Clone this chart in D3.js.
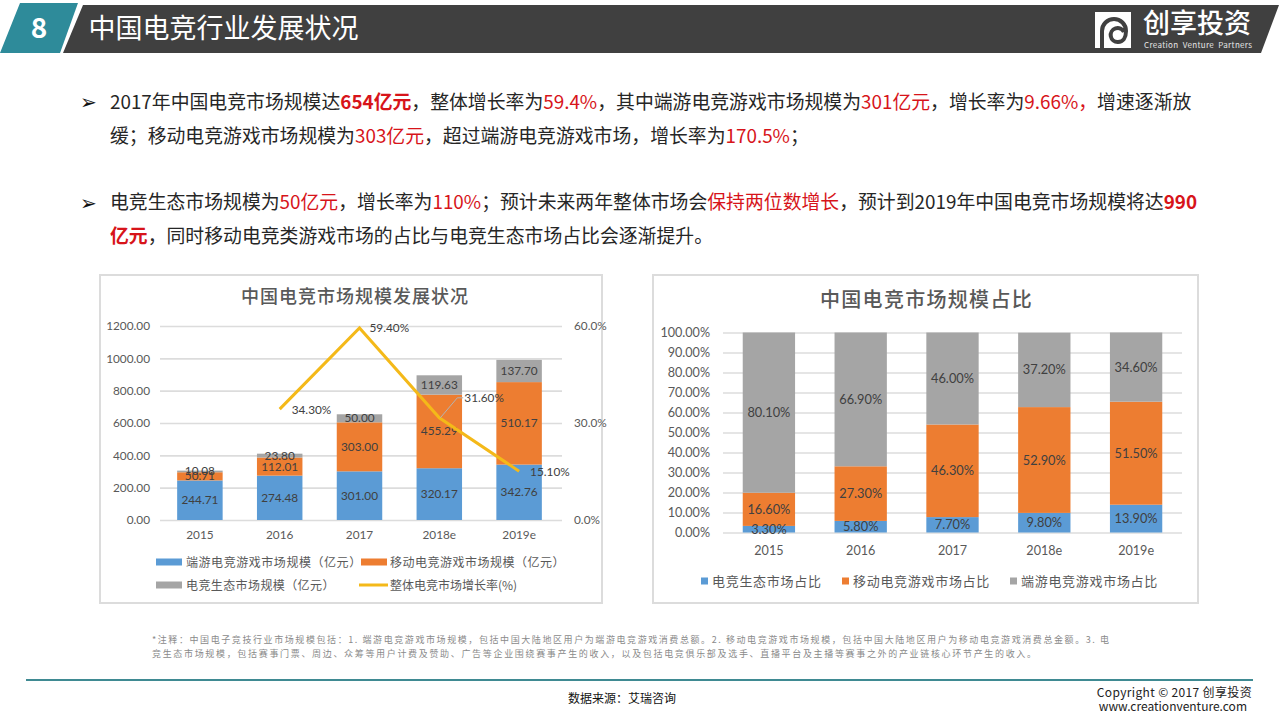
<!DOCTYPE html>
<html><head><meta charset="utf-8">
<script src="https://cdn.jsdelivr.net/npm/d3@7/dist/d3.min.js"></script>
<style>
html,body{margin:0;padding:0;background:#fff;overflow:hidden}
svg{display:block}
text{font-family:"Noto Sans CJK SC","Noto Sans",sans-serif}
.num{font-family:Lato,"Noto Sans CJK SC",sans-serif}
</style></head><body><svg id="c" width="1280" height="720"></svg>
<script>
const years = ["2015","2016","2017","2018e","2019e"];
const pcGame = [244.71,274.48,301.00,320.17,342.76];
const mobileGame = [50.71,112.01,303.00,455.29,510.17];
const ecosystem = [10.08,23.80,50.00,119.63,137.70];
const growth = [null,34.30,59.40,31.60,15.10];
const shareEco = [3.30,5.80,7.70,9.80,13.90];
const shareMobile = [16.60,27.30,46.30,52.90,51.50];
const sharePc = [80.10,66.90,46.00,37.20,34.60];
const leftTicks = [0,200,400,600,800,1000,1200];
const rateTicks = [0,30,60];
const shareTicks = [0,10,20,30,40,50,60,70,80,90,100];
const leftSeriesNames = ["端游电竞游戏市场规模（亿元）","移动电竞游戏市场规模（亿元）","电竞生态市场规模（亿元）","整体电竞市场增长率(%)"];
const rightSeriesNames = ["电竞生态市场占比","移动电竞游戏市场占比","端游电竞游戏市场占比"];
const headline = "中国电竞行业发展状况";
const leftTitle = "中国电竞市场规模发展状况";
const rightTitle = "中国电竞市场规模占比";
const para1a = [["2017年中国电竞市场规模达",0],["654亿元",2],["，整体增长率为",0],["59.4%",1],["，其中端游电竞游戏市场规模为",0],["301亿元",1],["，增长率为",0],["9.66%，",1],["增速逐渐放",0]];
const para1b = [["缓；移动电竞游戏市场规模为",0],["303亿元",1],["，超过端游电竞游戏市场，增长率为",0],["170.5%",1],["；",0]];
const para2a = [["电竞生态市场规模为",0],["50亿元",1],["，增长率为",0],["110%",1],["；预计未来两年整体市场会",0],["保持两位数增长",1],["，预计到2019年中国电竞市场规模将达",0],["990",2]];
const para2b = [["亿元",2],["，同时移动电竞类游戏市场的占比与电竞生态市场占比会逐渐提升。",0]];
const note1 = "*注释：中国电子竞技行业市场规模包括：1. 端游电竞游戏市场规模，包括中国大陆地区用户为端游电竞游戏消费总额。2. 移动电竞游戏市场规模，包括中国大陆地区用户为移动电竞游戏消费总金额。3. 电";
const note2 = "竞生态市场规模，包括赛事门票、周边、众筹等用户计费及赞助、广告等企业围绕赛事产生的收入，以及包括电竞俱乐部及选手、直播平台及主播等赛事之外的产业链核心环节产生的收入。";

const BLUE="#5b9bd5",ORANGE="#ed7d31",GRAY="#a5a5a5",YEL="#f4b919",INK="#404040",AX="#595959",GRID="#dcdcdc",TEAL="#2e8b9a",DARK="#404040";
const svg=d3.select("#c");

// header
const poly=(pts,f)=>svg.append("polygon").attr("points",pts.join(" ")).attr("fill",f);
poly(["78,3","60,53","0,53","20,3"],TEAL);
poly(["83,5","1279,5","1261,53","63,53"],DARK);
svg.append("text").attr("x",39).attr("y",38).attr("text-anchor","middle").attr("fill","#fff").attr("font-size",28).attr("font-weight",700).text("8");
svg.append("text").attr("x",88.5).attr("y",38).attr("fill","#fff").attr("font-size",27).text(headline);
// logo
svg.append("rect").attr("x",1095).attr("y",12).attr("width",36).attr("height",36).attr("fill","#fff");
svg.append("path").attr("d","M1102 48V31a12 12 0 0 1 24 0c0 7-3 11-8 11a7 7 0 1 1 6-10").attr("fill","none").attr("stroke",DARK).attr("stroke-width",4);
svg.append("text").attr("x",1143).attr("y",33).attr("fill","#fff").attr("font-size",27).attr("font-weight",500).text("创享投资");
svg.append("text").attr("x",1144).attr("y",48).attr("fill","#e6e6e6").attr("font-size",8).attr("font-family","Lato").attr("style","white-space:pre").attr("textLength",108).text("Creation  Venture  Partners");

// body text
const bodyLine=(segs,x,y)=>{
  const t=svg.append("text").attr("x",x).attr("y",y).attr("font-size",18.85).attr("fill","#262626");
  t.selectAll("tspan").data(segs).join("tspan").text(d=>d[0])
   .attr("fill",d=>d[1]?"#d7141a":"#262626").attr("font-weight",d=>d[1]==2?700:400);
};
bodyLine(para1a,110,108.5);bodyLine(para1b,110,142.5);bodyLine(para2a,110,209);bodyLine(para2b,110,242.5);
[102,203].forEach(y=>svg.append("text").attr("x",80).attr("y",y+7).attr("font-size",20).attr("font-family","DejaVu Sans").attr("fill","#111").text("➢"));

// boxes
[[100,275,502,328],[653,275,545,328]].forEach(b=>svg.append("rect").attr("x",b[0]).attr("y",b[1]).attr("width",b[2]).attr("height",b[3]).attr("fill","#fff").attr("stroke","#dcdcdc").attr("stroke-width",2));

const styleAxis=(g,fs)=>{g.select(".domain").remove();g.selectAll("line").attr("stroke",GRID).attr("stroke-width",1.6);
  g.selectAll("text").attr("class","num").attr("fill",AX).attr("font-size",fs);};

// LEFT CHART
const x1=d3.scaleBand().domain(years).range([160,559]).paddingInner(0.43).paddingOuter(0.215);
const y1=d3.scaleLinear().domain([0,1200]).range([520,326]);
const yR=d3.scaleLinear().domain([0,60]).range([520,326]);
svg.append("text").attr("x",355).attr("y",303).attr("text-anchor","middle").attr("font-size",18).attr("letter-spacing",1).attr("fill",AX).attr("font-weight",500).text(leftTitle);
svg.append("g").attr("transform","translate(160,0)").call(d3.axisLeft(y1).tickValues(leftTicks).tickFormat(d3.format(".2f")).tickSize(-402).tickPadding(10)).call(styleAxis,11.8);
svg.append("g").attr("transform","translate(562,0)").call(d3.axisRight(yR).tickValues(rateTicks).tickFormat(d=>d.toFixed(1)+"%").tickSize(0).tickPadding(12)).call(styleAxis,11.8);
svg.append("g").attr("transform","translate(0,520)").call(d3.axisBottom(x1).tickSize(0).tickPadding(11)).call(g=>{styleAxis(g,11.8)});
const stack1=[[pcGame,BLUE],[mobileGame,ORANGE],[ecosystem,GRAY]];
const lbl=[];
years.forEach((yr,i)=>{let base=0;stack1.forEach(([arr,col])=>{
  const v=arr[i];
  svg.append("rect").attr("x",x1(yr)).attr("width",x1.bandwidth()).attr("y",y1(base+v)).attr("height",y1(base)-y1(base+v)).attr("fill",col);
  lbl.push([x1(yr)+x1.bandwidth()/2,y1(base+v/2),v.toFixed(2)]);base+=v;});});
lbl.forEach(l=>svg.append("text").attr("class","num").attr("x",l[0]).attr("y",l[1]+4).attr("text-anchor","middle").attr("font-size",11.8).attr("fill",INK).text(l[2]));
const cx1=yr=>x1(yr)+x1.bandwidth()/2;
const ptsL=years.map((yr,i)=>({yr,v:growth[i]})).filter(d=>d.v!=null);
svg.append("path").datum(ptsL).attr("fill","none").attr("stroke",YEL).attr("stroke-width",3)
  .attr("d",d3.line().x(d=>cx1(d.yr)).y(d=>yR(d.v)));
const p18=ptsL[2];
svg.append("path").attr("fill","none").attr("stroke","#b4b4b4").attr("stroke-width",1)
  .attr("d",`M${cx1(p18.yr)+1} ${yR(p18.v)}l17 -20h6`);
const rateOff=[[12,5],[10,4],[25,-16],[11,5]];
ptsL.forEach((d,i)=>svg.append("text").attr("class","num").attr("x",cx1(d.yr)+rateOff[i][0]).attr("y",yR(d.v)+rateOff[i][1]).attr("font-size",11.8).attr("fill",INK).text(d.v.toFixed(2)+"%"));
// left legend
const legL=[[156,562,BLUE,186,.55],[361,562,ORANGE,390,.5],[156,585,GRAY,186,.4],[359,585,YEL,390,0]];
leftSeriesNames.forEach((n,i)=>{const l=legL[i];
  if(i<3)svg.append("rect").attr("x",l[0]).attr("y",l[1]-3.5).attr("width",26).attr("height",7).attr("fill",l[2]);
  else svg.append("line").attr("x1",l[0]).attr("x2",l[0]+29).attr("y1",l[1]).attr("y2",l[1]).attr("stroke",l[2]).attr("stroke-width",3);
  svg.append("text").attr("x",l[3]).attr("y",l[1]+4.5).attr("font-size",12).attr("fill",AX).attr("letter-spacing",l[4]).text(n);
});

// RIGHT CHART
const x2=d3.scaleBand().domain(years).range([723,1182]).paddingInner(0.43).paddingOuter(0.215);
const y2=d3.scaleLinear().domain([0,100]).range([532.5,332.5]);
svg.append("text").attr("x",926.5).attr("y",307).attr("text-anchor","middle").attr("font-size",20).attr("letter-spacing",1.3).attr("fill",AX).attr("font-weight",500).text(rightTitle);
svg.append("g").attr("transform","translate(723,0)").call(d3.axisLeft(y2).tickValues(shareTicks).tickFormat(d=>d.toFixed(2)+"%").tickSize(-459).tickPadding(13)).call(styleAxis,12.6);
svg.append("g").attr("transform","translate(0,532.5)").call(d3.axisBottom(x2).tickSize(0).tickPadding(13.5)).call(styleAxis,12.6);
const stack2=[[shareEco,BLUE],[shareMobile,ORANGE],[sharePc,GRAY]];
const lbl2=[];
years.forEach((yr,i)=>{let base=0;stack2.forEach(([arr,col])=>{
  const v=arr[i];
  svg.append("rect").attr("x",x2(yr)).attr("width",x2.bandwidth()).attr("y",y2(base+v)).attr("height",y2(base)-y2(base+v)).attr("fill",col);
  lbl2.push([x2(yr)+x2.bandwidth()/2,y2(base+v/2),v.toFixed(2)+"%"]);base+=v;});});
lbl2.forEach(l=>svg.append("text").attr("class","num").attr("x",l[0]).attr("y",l[1]+4.5).attr("text-anchor","middle").attr("font-size",12.8).attr("fill",INK).text(l[2]));
const legR=[[701,BLUE],[842,ORANGE],[1010,GRAY]];
rightSeriesNames.forEach((n,i)=>{
  svg.append("rect").attr("x",legR[i][0]).attr("y",577.5).attr("width",7).attr("height",7).attr("fill",legR[i][1]);
  svg.append("text").attr("x",legR[i][0]+11).attr("y",586).attr("font-size",13).attr("fill",AX).attr("letter-spacing",0.7).text(n);
});

// footer
svg.append("text").attr("x",152).attr("y",643).attr("font-size",9).attr("fill","#8a8a8a").attr("textLength",957).text(note1);
svg.append("text").attr("x",152).attr("y",657).attr("font-size",9).attr("fill","#8a8a8a").attr("textLength",884).text(note2);
svg.append("rect").attr("x",26).attr("y",679).attr("width",1227).attr("height",2).attr("fill","#3f8a92");
svg.append("text").attr("x",568).attr("y",703).attr("font-size",12).attr("fill","#111").text("数据来源：艾瑞咨询");
svg.append("text").attr("x",1252).attr("y",697).attr("text-anchor","end").attr("font-size",12).attr("letter-spacing",0.35).attr("fill","#222").text("Copyright © 2017 创享投资");
svg.append("text").attr("x",1247).attr("y",711).attr("text-anchor","end").attr("font-size",12).attr("fill","#222").text("www.creationventure.com");
</script></body></html>
